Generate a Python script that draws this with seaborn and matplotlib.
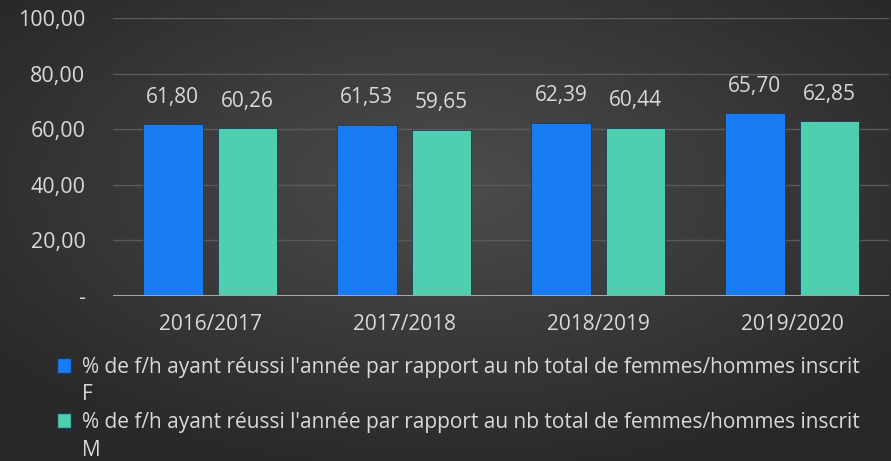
import numpy as np
import pandas as pd
import seaborn as sns
import matplotlib.pyplot as plt
from matplotlib.ticker import FuncFormatter
from matplotlib.patches import Patch

years = ['2016/2017', '2017/2018', '2018/2019', '2019/2020']
pct_f = [61.80, 61.53, 62.39, 65.70]
pct_m = [60.26, 59.65, 60.44, 62.85]
series_text = "% de f/h ayant réussi l'année par rapport au nb total de femmes/hommes inscrit"
series_codes = ['F', 'M']

df = pd.DataFrame({
    'Année': years * 2,
    'Valeur': pct_f + pct_m,
    'Série': [series_codes[0]] * len(years) + [series_codes[1]] * len(years),
})

sns.set_style('dark')
plt.rcParams['font.family'] = ['Open Sans', 'DejaVu Sans']
txt = '#d9d9d9'
colors = ['#1a7cf4', '#4fceb0']

fig = plt.figure(figsize=(8.91, 4.61), dpi=100)

# dark radial gradient background
h, w = 461, 891
yy, xx = np.mgrid[0:h, 0:w]
r = np.sqrt(((xx - w * 0.5) / w) ** 2 + ((yy - h * 0.4) / h) ** 2)
shade = np.clip(0.30 - 0.22 * r, 0.16, 0.30)
bg = np.dstack([shade, shade, shade])
fig.figimage(bg, xo=0, yo=0, origin='upper', zorder=-10)

ax = fig.add_axes([0.127, 0.358, 0.871, 0.603])
ax.patch.set_alpha(0)

sns.barplot(data=df, x='Année', y='Valeur', hue='Série', palette=colors,
            saturation=1, width=0.77, gap=0.2, edgecolor='#1b3a5a', linewidth=0.6,
            ax=ax, legend=False)

for cont in ax.containers:
    ax.bar_label(cont, labels=[f"{b.get_height():.2f}".replace('.', ',') for b in cont],
                 padding=12, color=txt, fontsize=15)

ax.set_ylim(0, 100)
ax.set_yticks([0, 20, 40, 60, 80, 100])
ax.yaxis.set_major_formatter(FuncFormatter(
    lambda v, p: '-' if v == 0 else f"{v:.2f}".replace('.', ',')))
ax.grid(axis='y', color='#5a5a5a', linewidth=1)
ax.grid(axis='x', visible=False)
ax.set_axisbelow(True)
ax.axhline(0, color='#a6a6a6', linewidth=2.2, zorder=3)
for s in ax.spines.values():
    s.set_visible(False)
ax.tick_params(axis='y', colors=txt, labelsize=15.5, length=0, pad=20)
ax.tick_params(axis='x', colors=txt, labelsize=15, length=0, pad=13)
ax.set_xlabel('')
ax.set_ylabel('')

# legend: label wraps onto a second line holding the series code
blank = Patch(facecolor='none', edgecolor='none')
handles = [Patch(facecolor=colors[0], edgecolor='#1b3a5a'), blank,
           Patch(facecolor=colors[1], edgecolor='#1b3a5a'), blank]
labels = [series_text, series_codes[0], series_text, series_codes[1]]
fig.legend(handles, labels, loc='upper left',
           bbox_to_anchor=(0.052, 0.249), frameon=False, fontsize=15,
           labelcolor=txt, handlelength=0.7, handleheight=0.7,
           handletextpad=0.5, labelspacing=0.32, borderpad=0)

fig.savefig('out.png', dpi=100)
